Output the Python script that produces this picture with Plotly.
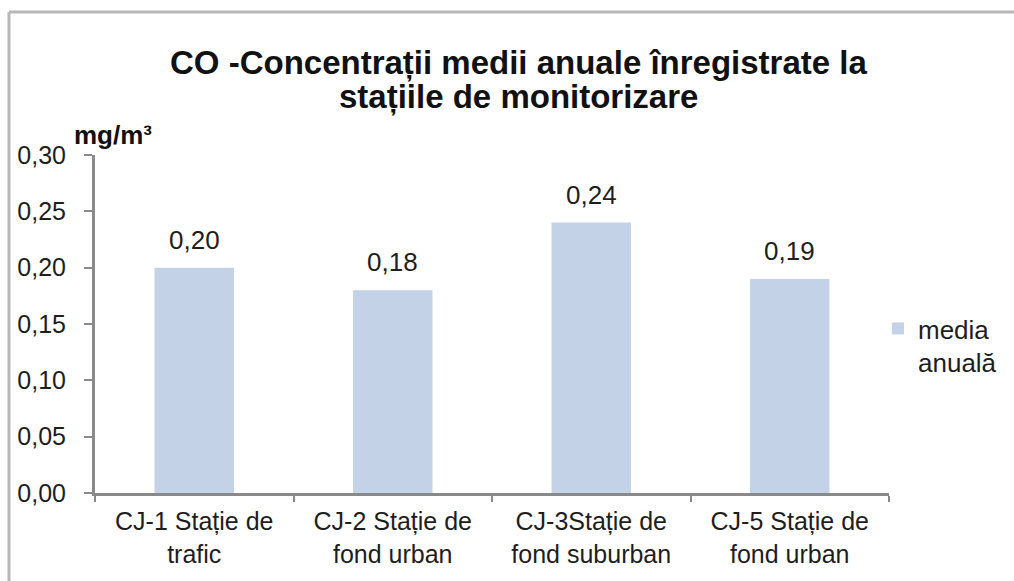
import plotly.graph_objects as go

# Stations and their annual mean CO concentration (mg/m³)
stations = [
    "CJ-1 Stație de<br>trafic",
    "CJ-2 Stație de<br>fond urban",
    "CJ-3Stație de<br>fond suburban",
    "CJ-5 Stație de<br>fond urban",
]
annual_mean = [0.20, 0.18, 0.24, 0.19]
y_ticks = [0.00, 0.05, 0.10, 0.15, 0.20, 0.25, 0.30]
series_name = "media<br>anuală"
title_lines = ["CO -Concentrații medii anuale înregistrate la", "stațiile de monitorizare"]

FONT = "Liberation Sans, Arial, sans-serif"
TEXT = "#1e1e1e"
AXIS = "#8a8a8a"
BAR = "#c3d2e7"

W, H = 1014, 581
ML, MR, MT, MB = 95, 125, 155, 88
pw, ph = W - ML - MR, H - MT - MB


def px(x):
    return (x - ML) / pw


def py(y):
    return (H - MB - y) / ph


fig = go.Figure(
    go.Bar(
        x=stations,
        y=annual_mean,
        name=series_name,
        marker=dict(color=BAR, line=dict(width=0)),
        width=0.4,
        showlegend=True,
    )
)

# value labels above each bar
for s, v in zip(stations, annual_mean):
    fig.add_annotation(
        x=s, y=v, xref="x", yref="y",
        text=f"{v:.2f}".replace(".", ","),
        showarrow=False, yanchor="bottom", yshift=11,
        font=dict(family=FONT, size=26, color=TEXT),
    )

# chart title, one annotation per line for tighter line spacing
for line, yc in zip(title_lines, [63, 97]):
    fig.add_annotation(
        x=px(518), y=py(yc), xref="paper", yref="paper",
        text=f"<b>{line}</b>",
        showarrow=False, xanchor="center", yanchor="middle",
        font=dict(family=FONT, size=33, color="#111"),
    )

# unit label
fig.add_annotation(
    x=px(72), y=py(135), xref="paper", yref="paper",
    text="<b>mg/m³</b>", showarrow=False, xanchor="left", yanchor="middle",
    font=dict(family=FONT, size=26, color="#111"),
)

# outer frame (left and top edges)
fig.add_shape(type="line", xref="paper", yref="paper",
              x0=px(9), x1=px(9), y0=py(12), y1=py(600),
              line=dict(color="#b8b8b8", width=3))
fig.add_shape(type="line", xref="paper", yref="paper",
              x0=px(9), x1=px(1030), y0=py(12), y1=py(12),
              line=dict(color="#b8b8b8", width=3))

fig.update_layout(
    width=W, height=H,
    margin=dict(l=ML, r=MR, t=MT, b=MB),
    paper_bgcolor="white", plot_bgcolor="white",
    separators=",.",
    font=dict(family=FONT, size=22, color=TEXT),
    bargap=0.6,
    legend=dict(
        x=px(878), y=py(305), xanchor="left", yanchor="top",
        xref="paper", yref="paper", valign="top",
        font=dict(family=FONT, size=26, color=TEXT),
        bgcolor="rgba(0,0,0,0)",
    ),
    xaxis=dict(
        showline=True, linecolor=AXIS, linewidth=3,
        ticks="outside", tickson="boundaries", ticklen=6,
        tickcolor=AXIS, tickwidth=2,
        ticklabelstandoff=4,
        tickfont=dict(family=FONT, size=25, color=TEXT),
        showgrid=False,
    ),
    yaxis=dict(
        range=[0, 0.30], tickvals=y_ticks, tickformat=".2f",
        showline=True, linecolor=AXIS, linewidth=3,
        ticks="outside", ticklen=8, tickcolor=AXIS, tickwidth=2,
        ticklabelstandoff=13,
        tickfont=dict(family=FONT, size=25, color=TEXT),
        showgrid=False, zeroline=False,
    ),
)

fig.write_html("out.html")
